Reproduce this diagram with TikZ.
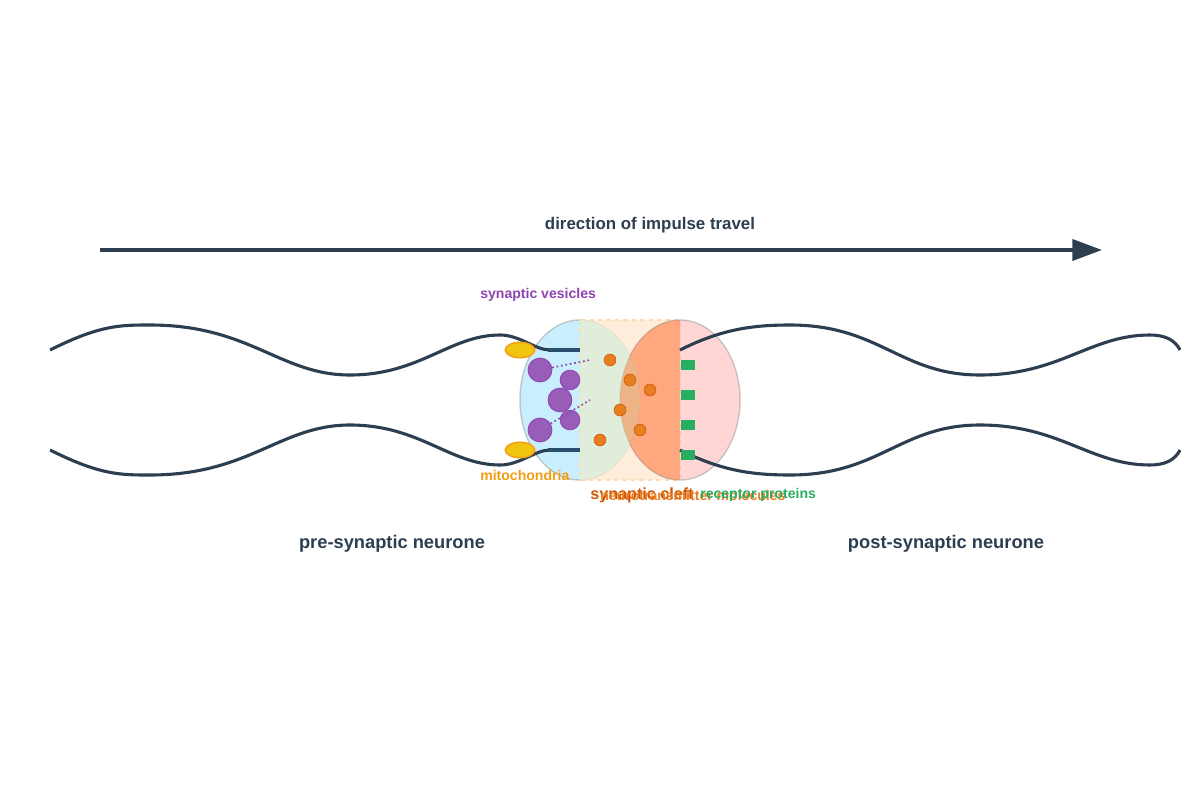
\documentclass[tikz,border=0pt]{standalone}
\usepackage{fontspec}
\setmainfont{Liberation Sans}
\usetikzlibrary{arrows.meta,shapes.geometric}
\definecolor{dark}{HTML}{2C3E50}
\definecolor{pur}{HTML}{8E44AD}
\definecolor{org}{HTML}{E67E22}
\definecolor{yel}{HTML}{F1C40F}
\definecolor{yelb}{HTML}{F39C12}
\definecolor{grn}{HTML}{27AE60}
\definecolor{red2}{HTML}{D35400}
\begin{document}
\begin{tikzpicture}[x=0.025cm,y=-0.025cm,
  nerve/.style={dark,line width=2.2pt},
  term/.style={color={rgb,255:red,40;green,80;blue,110},line width=2.2pt},
  ves/.style={circle,draw=pur,fill=pur,fill opacity=0.85,line width=0.6pt,inner sep=0},
  nt/.style={circle,draw=red2,fill=org,line width=0.4pt,minimum size=8.5pt,inner sep=0},
  rec/.style={rectangle,fill=grn,minimum width=10.5pt,minimum height=7pt,inner sep=0},
  mito/.style={ellipse,draw=yelb,fill=yel,line width=1pt,minimum width=21pt,minimum height=11pt,inner sep=0},
  lbl/.style={font=\bfseries\fontsize{10}{12}\selectfont,anchor=west,inner sep=0},
  big/.style={font=\bfseries\fontsize{13}{15}\selectfont,text=dark,inner sep=0}]
\useasboundingbox (0,0) rectangle (1200,800);
% arrow
\coordinate (a1) at (100,250); \coordinate (a2) at (1102,250);
\draw[dark,line width=2.2pt,-{Triangle[length=21pt,width=15pt]}] (a1) -- (a2);
\node[big,font=\bfseries\fontsize{12}{14}\selectfont] (dir) at (650,225) {direction of impulse travel};
% cleft regions
\fill[blue!30!cyan!25,fill opacity=0.85] (580,400) ellipse (60 and 80);
\draw[gray!70,line width=1pt,opacity=0.6] (580,400) ellipse (60 and 80);
\fill[orange!20,fill opacity=0.7] (580,320) rectangle (680,480);
\draw[orange!30,dashed,line width=0.8pt] (580,320) rectangle (680,480);
\fill[red!30,fill opacity=0.55] (680,400) ellipse (60 and 80);
\draw[gray!70,line width=1pt,opacity=0.6] (680,400) ellipse (60 and 80);
\begin{scope}
\clip (580,320) rectangle (680,480);
\clip (580,400) ellipse (60 and 80);
\fill[gray!50!green!20,opacity=0.6] (580,320) rectangle (680,480);
\end{scope}
\begin{scope}
\clip (580,320) rectangle (680,480);
\clip (680,400) ellipse (60 and 80);
\fill[orange!80!red,opacity=0.35] (580,320) rectangle (680,480);
\end{scope}
% nerves
\draw[nerve] (50,350) .. controls (100,325) and (120,325) .. (150,325)
  .. controls (250,325) and (280,375) .. (350,375)
  .. controls (420,375) and (450,335) .. (500,335) .. controls (520,335) and (535,350) .. (550,350);
\draw[term] (548,350) -- (580,350);
\draw[nerve] (50,450) .. controls (100,475) and (120,475) .. (150,475)
  .. controls (250,475) and (280,425) .. (350,425)
  .. controls (420,425) and (450,465) .. (500,465) .. controls (520,465) and (535,450) .. (550,450);
\draw[term] (548,450) -- (580,450);
\draw[nerve] (680,350) .. controls (720,330) and (750,325) .. (790,325)
  .. controls (880,325) and (900,375) .. (980,375)
  .. controls (1060,375) and (1090,335) .. (1150,335) .. controls (1165,335) and (1175,340) .. (1180,350);
\draw[nerve] (680,450) .. controls (720,470) and (750,475) .. (790,475)
  .. controls (880,475) and (900,425) .. (980,425)
  .. controls (1060,425) and (1090,465) .. (1150,465) .. controls (1165,465) and (1175,460) .. (1180,450);
% mitochondria
\node[mito] (m1) at (520,350) {};
\node[mito] (m2) at (520,450) {};
% vesicles
\node[ves,minimum size=17pt] (v1) at (540,370) {};
\node[ves,minimum size=14pt] (v2) at (570,380) {};
\node[ves,minimum size=17pt] (v3) at (560,400) {};
\node[ves,minimum size=14pt] (v4) at (570,420) {};
\node[ves,minimum size=17pt] (v5) at (540,430) {};
\coordinate (d1) at (590,360); \coordinate (d2) at (590,400);
\draw[pur,dotted,line width=1.2pt] (v1) -- (d1);
\draw[pur,dotted,line width=1.2pt] (v5) -- (d2);
% neurotransmitters
\node[nt] (n1) at (610,360) {};
\node[nt] (n2) at (630,380) {};
\node[nt] (n3) at (650,390) {};
\node[nt] (n4) at (620,410) {};
\node[nt] (n5) at (640,430) {};
\node[nt] (n6) at (600,440) {};
% receptors
\node[rec] (r1) at (688,365) {};
\node[rec] (r2) at (688,395) {};
\node[rec] (r3) at (688,425) {};
\node[rec] (r4) at (688,455) {};
% labels
\node[lbl,text=pur] (lv) at (480,295) {synaptic vesicles};
\node[lbl,text=yelb] (lm) at (480,475) {mitochondria};
\node[lbl,text=red2,font=\bfseries\fontsize{11.5}{13}\selectfont] (lc) at (590,495) {synaptic cleft};
\node[lbl,text=org] (ln) at (600,495) {neurotransmitter molecules};
\node[lbl,text=grn] (lr) at (700,495) {receptor proteins};
\node[big] (pre) at (392,544) {pre-synaptic neurone};
\node[big] (post) at (946,544) {post-synaptic neurone};
\end{tikzpicture}
\end{document}
